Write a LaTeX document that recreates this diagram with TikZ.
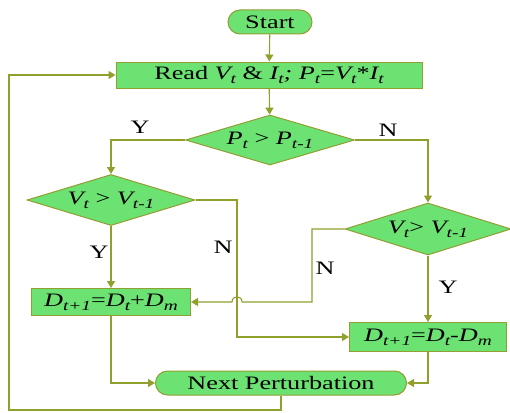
\documentclass[tikz,border=0pt]{standalone}
\usepackage{fontspec}
\setmainfont[FakeStretch=1.38]{Liberation Serif}
\usetikzlibrary{shapes.geometric,shapes.misc,arrows.meta,calc}
\definecolor{boxfill}{RGB}{108,226,114}
\definecolor{boxline}{RGB}{145,158,50}
\definecolor{conn}{RGB}{145,160,45}
\newcommand{\iv}[2]{\textit{#1\raisebox{-0.22em}{\fontsize{14}{16}\selectfont #2}}}
\begin{document}
\begin{tikzpicture}[x=1pt,y=-1pt,
  every node/.style={font=\fontsize{19}{21}\selectfont},
  procbox/.style={draw=boxline,fill=boxfill,line width=1pt,rectangle,inner sep=0pt},
  termbox/.style={draw=boxline,fill=boxfill,line width=1pt,rounded rectangle,inner sep=0pt},
  decbox/.style={draw=boxline,fill=boxfill,line width=1pt,diamond,inner sep=0pt,aspect=3.4},
  conline/.style={draw=conn,line width=1.1pt},
  arr/.style={conline,-{Triangle[length=7pt,width=8pt]}},
  lbl/.style={font=\fontsize{19}{21}\selectfont}]
\useasboundingbox (0,0) rectangle (510,412);
\node[termbox,minimum width=84pt,minimum height=24pt] (start) at (270,22) {Start};
\node[procbox,minimum width=306pt,minimum height=26pt] (read) at (269,75) {Read \iv{V}{t} \& \iv{I}{t}\textit{;} \iv{P}{t}=\iv{V}{t}*\iv{I}{t}};
\node[decbox,minimum width=169pt,minimum height=50pt] (d1) at (270,140) {\iv{P}{t} {>} \iv{P}{t-1}};
\node[decbox,minimum width=168pt,minimum height=51pt] (d2) at (111,200) {\iv{V}{t} {>} \iv{V}{t-1}};
\node[decbox,minimum width=166pt,minimum height=52pt] (d3) at (428,229) {\iv{V}{t}{>} \iv{V}{t-1}};
\node[procbox,minimum width=159pt,minimum height=27pt] (dp) at (111,302) {\iv{D}{t+1}=\iv{D}{t}+\iv{D}{m}};
\node[procbox,minimum width=157pt,minimum height=29pt] (dm) at (428,337) {\iv{D}{t+1}=\iv{D}{t}-\iv{D}{m}};
\node[termbox,minimum width=251pt,minimum height=24pt] (next) at (281,383) {Next Perturbation};

\draw[arr] (start) -- (read);
\draw[arr] (read) -- (d1);
\draw[arr] (d1.west) -| (d2.north);
\draw[arr] (d1.east) -| (d3.north);
\draw[arr] (d2.south) -- (dp.north);
\coordinate (c1) at (237,200);
\draw[arr] (d2.east) -- (c1) |- (dm.west);
\coordinate (c2) at (312,229);
\coordinate (c3) at (312,302);
\coordinate (j1) at (242,302);
\coordinate (j2) at (232,302);
\draw[arr] (d3.west) -- (c2) -- (c3) -- (j1) .. controls (242,295) and (232,295) .. (j2) -- (dp.east);
\draw[arr] (d3.south) -- (dm.north);
\draw[arr] (dp.south) |- (next.west);
\draw[arr] (dm.south) |- (next.east);
\coordinate (b2) at (9,410);
\draw[arr] (next.south) |- (b2) |- (read.west);

\node[lbl] (ly1) at (140,127) {Y};
\node[lbl] (ln1) at (388,130) {N};
\node[lbl] (ly2) at (99,252) {Y};
\node[lbl] (ln2) at (223,247) {N};
\node[lbl] (ln3) at (325,268) {N};
\node[lbl] (ly3) at (448,287) {Y};
\end{tikzpicture}
\end{document}
